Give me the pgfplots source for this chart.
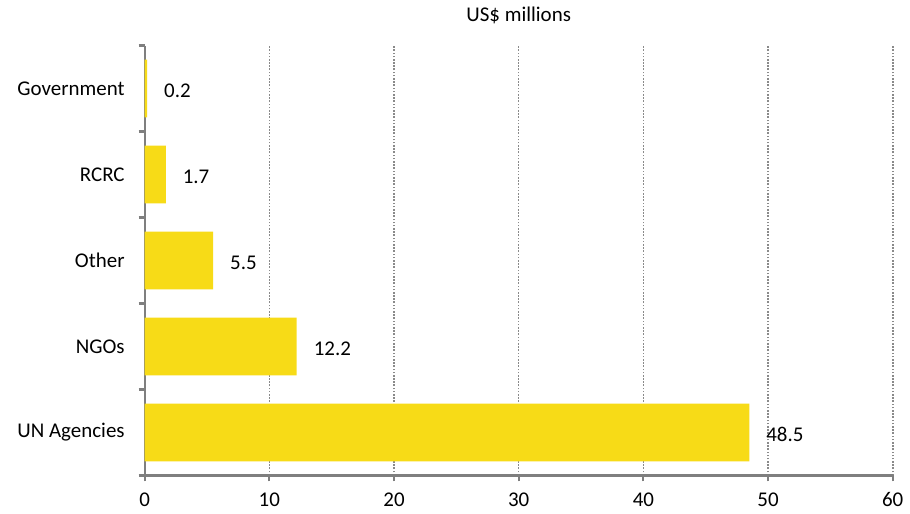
\documentclass[border=0pt]{standalone}
\usepackage{fontspec}
\setmainfont{Carlito}
\usepackage{pgfplots}
\pgfplotsset{compat=1.18}

\definecolor{baryellow}{HTML}{F7DB17}
\definecolor{axisgray}{HTML}{7F7F7F}
\definecolor{gridgray}{HTML}{8A8A8A}

\begin{document}
\begin{tikzpicture}
\begin{axis}[
    at={(0,0)}, anchor=south west,
    width=375pt, height=215.5pt,
    scale only axis,
    xbar,
    bar width=0.67,
    xmin=0, xmax=60,
    ymin=-0.5, ymax=4.5,
    xtick={0,10,...,60},
    ytick={-0.5,0.5,1.5,2.5,3.5,4.5},
    yticklabels={},
    extra y ticks={0,1,2,3,4},
    extra y tick labels={UN Agencies,NGOs,Other,RCRC,Government},
    extra y tick style={tick style={draw=none}, grid=none},
    axis lines*=left,
    axis line style={axisgray, line width=1.1pt},
    tick align=outside,
    tick style={axisgray, line width=1.1pt},
    major tick length=3pt,
    xmajorgrids,
    major x grid style={gridgray, line width=0.8pt, dash pattern=on 0.8pt off 0.8pt},
    xticklabel style={font=\fontsize{10.5}{12}\selectfont, yshift=-2pt},
    yticklabel style={font=\fontsize{10.5}{12}\selectfont, xshift=-3.5pt},
    /pgf/number format/assume math mode=true,
    title={US\$ millions},
    title style={font=\fontsize{10.5}{12}\selectfont, yshift=1.5pt},
    nodes near coords,
    nodes near coords align={horizontal},
    every node near coord/.append style={font=\fontsize{10.5}{12}\selectfont, anchor=west, xshift=5pt, yshift=-1pt, text=black},
    point meta=explicit symbolic,
]
\addplot[fill=baryellow, draw=none] coordinates {
    (48.5,0) [48.5]
    (12.2,1) [12.2]
    (5.5,2) [5.5]
    (1.7,3) [1.7]
    (0.2,4) [0.2]
};
\end{axis}
\path[use as bounding box] (-72.5pt,-17.5pt) rectangle (382.5pt,238pt);
\end{tikzpicture}
\end{document}
